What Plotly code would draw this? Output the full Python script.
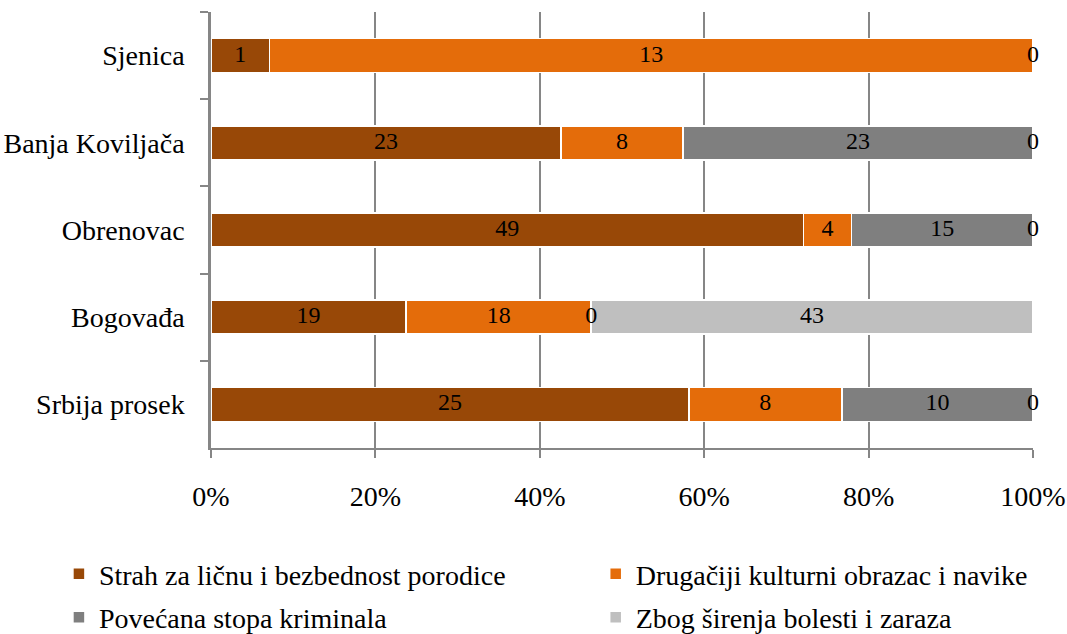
import plotly.graph_objects as go

categories = ["Sjenica", "Banja Koviljača", "Obrenovac", "Bogovađa", "Srbija prosek"]
series_names = [
    "Strah za ličnu i bezbednost porodice",
    "Drugačiji kulturni obrazac i navike",
    "Povećana stopa kriminala",
    "Zbog širenja bolesti i zaraza",
]
strah = [1, 23, 49, 19, 25]
drugaciji = [13, 8, 4, 18, 8]
kriminal = [0, 23, 15, 0, 10]
bolesti = [0, 0, 0, 43, 0]
colors = ["#984807", "#E46C0A", "#7F7F7F", "#BFBFBF"]
x_ticks = [0, 20, 40, 60, 80, 100]

series = [strah, drugaciji, kriminal, bolesti]
legend_ids = ["legend", "legend2", "legend", "legend2"]
FONT = "Liberation Serif"
FS = 28
FS_DATA = 24

fig = go.Figure()
for i, (name, vals) in enumerate(zip(series_names, series)):
    fig.add_trace(go.Bar(
        name=name,
        y=categories,
        x=vals,
        orientation="h",
        marker=dict(color=colors[i], line=dict(color="white", width=1.5)),
        legend=legend_ids[i],
        legendgroup=f"g{i}",
        hoverinfo="skip",
    ))

# data labels at the stacked positions (percent scale, derived from the data)
totals = [sum(s[j] for s in series) for j in range(len(categories))]
lx, ly, lt = [], [], []
for j, cat in enumerate(categories):
    cum = 0
    zero_seen = set()
    for s in series:
        v = s[j]
        if v == 0:
            pos = cum / totals[j] * 100
            key = round(pos, 6)
            if key not in zero_seen:
                zero_seen.add(key)
                lx.append(pos)
                ly.append(cat)
                lt.append("0")
        else:
            lx.append((cum + v / 2) / totals[j] * 100)
            ly.append(cat)
            lt.append(str(v))
        cum += v
fig.add_trace(go.Scatter(
    x=lx, y=ly, mode="text", text=lt,
    textposition="middle center",
    textfont=dict(color="black", size=FS_DATA, family=FONT),
    cliponaxis=False,
    showlegend=False, hoverinfo="skip",
))

fig.update_layout(
    barmode="stack",
    barnorm="percent",
    bargap=0.61,
    width=1067,
    height=634,
    margin=dict(l=211, r=34, t=12, b=186, autoexpand=False),
    plot_bgcolor="white",
    paper_bgcolor="white",
    font=dict(family=FONT, size=FS, color="black"),
    legend=dict(
        orientation="v", x=-0.185, y=-0.232, xanchor="left", yanchor="top",
        font=dict(size=FS, family=FONT), tracegroupgap=4, bgcolor="rgba(0,0,0,0)",
        itemwidth=30,
    ),
    legend2=dict(
        orientation="v", x=0.468, y=-0.232, xanchor="left", yanchor="top",
        font=dict(size=FS, family=FONT), tracegroupgap=4, bgcolor="rgba(0,0,0,0)",
        itemwidth=30,
    ),
)
fig.update_xaxes(
    range=[0, 100],
    tickvals=x_ticks,
    ticktext=[f"{v}%" for v in x_ticks],
    showgrid=True, gridcolor="#868686", gridwidth=1.5,
    showline=True, linecolor="#868686", linewidth=2,
    ticks="outside", ticklen=8, tickcolor="#868686", tickwidth=1.5,
    ticklabelstandoff=14,
    zeroline=False,
    tickfont=dict(size=FS, family=FONT),
)
fig.update_yaxes(
    categoryorder="array", categoryarray=categories, autorange="reversed",
    showline=True, linecolor="#868686", linewidth=2.5,
    ticks="outside", tickson="boundaries", ticklen=8, tickcolor="#868686", tickwidth=1.5,
    ticklabelstandoff=18,
    showgrid=False,
    tickfont=dict(size=FS, family=FONT),
)

fig.write_html(
    "out.html",
    config={"displayModeBar": False},
    post_script="document.body.style.margin='0px';",
)
